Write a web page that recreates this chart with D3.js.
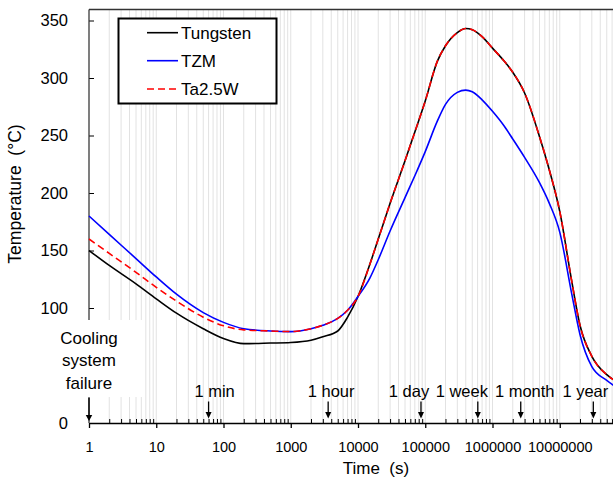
<!DOCTYPE html>
<html><head><meta charset="utf-8">
<script src="https://cdn.jsdelivr.net/npm/d3@7"></script>
<style>body{margin:0;background:#fff}svg{display:block;font-family:"Liberation Sans",Arial,sans-serif}</style>
</head><body><svg id="c" width="613" height="478"></svg>
<script>
const times    = [1,2,5,10,20,50,100,200,500,1000,2000,3000,5000,7000,1e4,1.5e4,2e4,3e4,5e4,7e4,1e5,1.5e5,2e5,3e5,4e5,5e5,7e5,1e6,1.5e6,2e6,3e6,5e6,7e6,1e7,1.5e7,2e7,3e7,5e7,7e7];
const tungsten = [150,137,121,108,95.5,82,73.5,69,69.5,70,72,75,80,92,110,138,160,191,228,253,280,314,328,339.5,343,342,336,326,314.5,305,287,249,220,184,124,85,58,42,36];
const tzm      = [180,164,143,127,112,96,87.5,82,80,79.5,82,85,91,98,110,126,142,167,196,215,236,262,277,287.5,289.5,288,281,271,258,247,231,209,191,166,113,77,49,37,31];
const ta25w    = [160,147.5,131,118,106,92,84.5,81,80,79.5,82,85,91,98,110,138,160,191,228,253,280,314,328,339.5,343,342,336,326,314.5,305,287,249,220,184,124,85,58,42,36];
const seriesNames  = ["Tungsten","TZM","Ta2.5W"];
const seriesColors = ["#000000","#0000ff","#ff0000"];
const xTickValues = [1,10,100,1000,10000,100000,1000000,10000000];
const yTickValues = [0,100,150,200,250,300,350];
const markerLabels = ["1 min","1 hour","1 day","1 week","1 month","1 year"];
const markerTimes  = [60,3600,86400,604800,2630000,31560000];
const markerLabelDx = [6,3,-12,-16,4,-8];
const failureLines = ["Cooling","system","failure"];

const svg = d3.select("#c");
const x = d3.scaleLog().domain([1,1e8]).range([89,627]);
const y = d3.scaleLinear().domain([0,350]).range([423,20.5]);
const plotTop = 9.5, plotBottom = y(0);

const minors = [], allTicks = [];
for (let d = 0; d < 8; d++) for (let k = 1; k <= 9; k++) { const v = k*Math.pow(10,d); allTicks.push(v); if (k>1) minors.push(v); }

svg.append("g").selectAll("line").data(allTicks).join("line")
  .attr("x1", d=>x(d)).attr("x2", d=>x(d)).attr("y1", plotTop).attr("y2", plotBottom)
  .attr("stroke", "#e2e2e2").attr("stroke-width", 1);

svg.append("line").attr("x1",89).attr("x2",613).attr("y1",plotTop).attr("y2",plotTop).attr("stroke","#333").attr("stroke-width",1.4);

const xAxis = svg.append("g").attr("transform",`translate(0,${plotBottom})`)
  .call(d3.axisBottom(x).tickValues(xTickValues).tickFormat(d3.format("d")).tickSize(5).tickPadding(14).tickSizeOuter(0));
xAxis.select(".domain").attr("stroke","#000").attr("stroke-width",1.4);
xAxis.selectAll(".tick line").attr("stroke","#000").attr("stroke-width",1.3);
xAxis.selectAll("text").attr("font-size","14.5px").attr("font-family","Liberation Sans, Arial, sans-serif").attr("fill","#000");
const xMinor = svg.append("g").attr("transform",`translate(0,${plotBottom})`)
  .call(d3.axisBottom(x).tickValues(minors).tickFormat("").tickSize(-4).tickSizeOuter(0));
xMinor.select(".domain").remove();
xMinor.selectAll(".tick line").attr("stroke","#000").attr("stroke-width",1);

const yAxis = svg.append("g").attr("transform","translate(89,0)")
  .call(d3.axisLeft(y).tickValues(yTickValues).tickSize(-5).tickPadding(21));
yAxis.select(".domain").remove();
yAxis.selectAll(".tick line").attr("stroke","#000").attr("stroke-width",1);
yAxis.selectAll("text").attr("font-size","16.5px").attr("font-family","Liberation Sans, Arial, sans-serif").attr("fill","#000");
svg.append("line").attr("x1",89).attr("x2",89).attr("y1",plotTop).attr("y2",plotBottom).attr("stroke","#333").attr("stroke-width",1.2);

svg.append("text").attr("x",376).attr("y",474).attr("text-anchor","middle").style("white-space","pre")
  .attr("font-size","17px").text("Time  (s)");
svg.append("text").attr("transform","translate(21,194) rotate(-90)").attr("text-anchor","middle").style("white-space","pre")
  .attr("font-size","17.5px").text("Temperature  (°C)");

svg.append("rect").attr("x",35).attr("y",320).attr("width",108).attr("height",77).attr("fill","#fff");
svg.append("g").selectAll("text").data(failureLines).join("text")
  .attr("x",x(1)).attr("y",(d,i)=>344+i*22.3).attr("text-anchor","middle").attr("font-size","17px").text(d=>d);

function arrow(xp, y0, y1, hl, hw) {
  svg.append("line").attr("x1",xp).attr("x2",xp).attr("y1",y0).attr("y2",y1-hl+1).attr("stroke","#000").attr("stroke-width",1.3);
  svg.append("path").attr("d",`M${xp-hw/2},${y1-hl}L${xp+hw/2},${y1-hl}L${xp},${y1}Z`).attr("fill","#000");
}
arrow(x(1), 398, 421, 6, 6.5);
markerTimes.forEach((t,i)=>{
  arrow(x(t), 401.5, 418.5, 6.5, 6);
  svg.append("text").attr("x",x(t)+markerLabelDx[i]).attr("y",397).attr("text-anchor","middle")
    .attr("font-size","16.5px").text(markerLabels[i]);
});

const line = d3.line().x(d=>x(d[0])).y(d=>y(d[1])).curve(d3.curveMonotoneX);
[tungsten, tzm, ta25w].forEach((vals,i)=>{
  svg.append("path").datum(times.map((t,j)=>[t,vals[j]])).attr("d",line)
    .attr("fill","none").attr("stroke",seriesColors[i]).attr("stroke-width",1.6)
    .attr("stroke-dasharray", i===2 ? "7,4" : null);
});

svg.append("rect").attr("x",118.5).attr("y",18.5).attr("width",158).attr("height",85)
  .attr("fill","#fff").attr("stroke","#000").attr("stroke-width",2);
const ly = [32.7,60.7,89];
seriesNames.forEach((n,i)=>{
  svg.append("line").attr("x1",147).attr("x2",178).attr("y1",ly[i]).attr("y2",ly[i])
    .attr("stroke",seriesColors[i]).attr("stroke-width",1.6).attr("stroke-dasharray", i===2 ? "7,4" : null);
  svg.append("text").attr("x",181).attr("y",ly[i]+6).attr("font-size","17px").text(n);
});
</script></body></html>
